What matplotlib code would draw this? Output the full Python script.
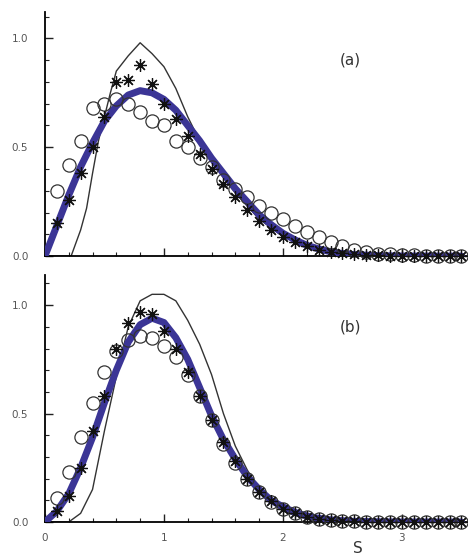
import numpy as np
import matplotlib.pyplot as plt
from matplotlib.ticker import MultipleLocator

# ---- panel (a) ----
s_pts = np.round(np.arange(0.1, 3.51, 0.1), 2)

circ_a = [0.30, 0.42, 0.53, 0.68, 0.70, 0.72, 0.70, 0.66, 0.62, 0.60,
          0.53, 0.50, 0.45, 0.41, 0.35, 0.31, 0.27, 0.23, 0.20, 0.17,
          0.14, 0.11, 0.09, 0.065, 0.045, 0.03, 0.02, 0.012, 0.008, 0.005,
          0.003, 0.002, 0.001, 0.001, 0.0]
star_a = [0.15, 0.26, 0.38, 0.50, 0.64, 0.80, 0.81, 0.88, 0.79, 0.70,
          0.63, 0.55, 0.47, 0.40, 0.33, 0.27, 0.21, 0.16, 0.12, 0.09,
          0.065, 0.045, 0.03, 0.02, 0.013, 0.008, 0.005, 0.003, 0.002, 0.001,
          0.0, 0.0, 0.0, 0.0, 0.0]

s_blue = [0.0, 0.1, 0.2, 0.3, 0.4, 0.5, 0.6, 0.7, 0.8, 0.9, 1.0, 1.1, 1.2,
          1.3, 1.4, 1.5, 1.6, 1.7, 1.8, 1.9, 2.0, 2.1, 2.2, 2.3, 2.4, 2.5,
          2.6, 2.8, 3.0, 3.5]
blue_a = [0.0, 0.14, 0.28, 0.41, 0.52, 0.62, 0.69, 0.74, 0.76, 0.75, 0.72,
          0.67, 0.60, 0.53, 0.45, 0.38, 0.31, 0.25, 0.19, 0.145, 0.105,
          0.075, 0.05, 0.033, 0.02, 0.012, 0.007, 0.002, 0.0005, 0.0]

s_thin_a = [0.0, 0.22, 0.3, 0.35, 0.4, 0.45, 0.5, 0.55, 0.6, 0.7, 0.8, 0.9,
            1.0, 1.1, 1.2, 1.3, 1.4, 1.5, 1.6, 1.7, 1.8, 1.9, 2.0, 2.2, 2.4,
            2.7, 3.0, 3.5]
thin_a = [0.0, 0.0, 0.12, 0.22, 0.38, 0.53, 0.64, 0.75, 0.85, 0.92, 0.98,
          0.93, 0.87, 0.77, 0.64, 0.53, 0.44, 0.36, 0.29, 0.23, 0.17, 0.13,
          0.09, 0.045, 0.02, 0.005, 0.001, 0.0]

# ---- panel (b) ----
circ_b = [0.11, 0.23, 0.39, 0.55, 0.69, 0.79, 0.84, 0.86, 0.85, 0.81,
          0.76, 0.68, 0.58, 0.47, 0.36, 0.27, 0.20, 0.14, 0.09, 0.06,
          0.04, 0.025, 0.015, 0.009, 0.005, 0.003, 0.002, 0.001, 0.0, 0.0,
          0.0, 0.0, 0.0, 0.0, 0.0]
star_b = [0.05, 0.12, 0.25, 0.42, 0.58, 0.80, 0.92, 0.97, 0.96, 0.88,
          0.80, 0.69, 0.58, 0.47, 0.37, 0.28, 0.20, 0.14, 0.095, 0.06,
          0.04, 0.025, 0.015, 0.009, 0.005, 0.003, 0.002, 0.001, 0.0, 0.0,
          0.0, 0.0, 0.0, 0.0, 0.0]
blue_b = [0.0, 0.05, 0.13, 0.25, 0.39, 0.55, 0.70, 0.83, 0.91, 0.94, 0.92,
          0.85, 0.75, 0.62, 0.49, 0.38, 0.29, 0.21, 0.15, 0.10, 0.07,
          0.045, 0.028, 0.017, 0.01, 0.006, 0.003, 0.001, 0.0, 0.0]

s_thin_b = [0.0, 0.2, 0.3, 0.4, 0.5, 0.6, 0.7, 0.8, 0.9, 1.0, 1.1, 1.2, 1.3,
            1.4, 1.5, 1.6, 1.7, 1.8, 1.9, 2.0, 2.1, 2.2, 2.4, 2.6, 3.5]
thin_b = [0.0, 0.0, 0.04, 0.15, 0.42, 0.67, 0.90, 1.02, 1.05, 1.05, 1.02,
          0.93, 0.82, 0.68, 0.50, 0.35, 0.24, 0.15, 0.09, 0.05, 0.03, 0.015,
          0.004, 0.0, 0.0]

xticks = [0, 1, 2, 3]
blue = '#3b3596'
grey = '#555555'

fig = plt.figure(figsize=(4.68, 5.58), dpi=100)
ax_a = fig.add_axes([0.096, 0.541, 0.904, 0.437])
ax_b = fig.add_axes([0.096, 0.0645, 0.904, 0.443])

panels = [
    (ax_a, circ_a, star_a, blue_a, s_thin_a, thin_a, '(a)', 1.12),
    (ax_b, circ_b, star_b, blue_b, s_thin_b, thin_b, '(b)', 1.14),
]

for ax, circ, star, bl, st, th, lab, ytop in panels:
    ax.plot(st, th, color='#333333', lw=1.0, zorder=2)
    ax.plot(s_blue, bl, color=blue, lw=5, solid_capstyle='round', zorder=3)
    ax.plot(s_pts, circ, ls='none', marker='o', ms=9.5, mfc='none',
            mec='#333333', mew=0.9, zorder=4, clip_on=False)
    ax.plot(s_pts, star, ls='none', marker=(8, 2, 0), ms=9, mec='#111111',
            mew=0.9, zorder=5, clip_on=False)
    ax.text(2.57, 0.90, lab, fontsize=11, color='#333333', ha='center', va='center')

    ax.set_xlim(0, 3.555)
    ax.set_ylim(0, ytop)
    ax.spines['top'].set_visible(False)
    ax.spines['right'].set_visible(False)
    ax.spines['left'].set_linewidth(1.3)
    ax.spines['bottom'].set_linewidth(1.3)
    ax.set_xticks(xticks)
    ax.xaxis.set_minor_locator(MultipleLocator(0.2))
    ax.set_yticks([0.0, 0.5, 1.0])
    ax.yaxis.set_minor_locator(MultipleLocator(0.1))
    ax.tick_params(which='both', direction='in', colors='#222222', labelcolor=grey,
                   labelsize=7.5)
    ax.tick_params(which='major', length=6, width=1.0)
    ax.tick_params(which='minor', length=3, width=0.8)
    ax.tick_params(axis='y', pad=12)
    ax.set_yticklabels(['0.0', '0.5', '1.0'])

ax_a.set_xticklabels([])
ax_b.set_xticklabels(['0', '1', '2', '3'])
ax_b.tick_params(axis='x', pad=8)
ax_b.text(2.63, -0.12, 'S', fontsize=11, color='#333333', ha='center', va='center')

fig.savefig('out.png', dpi=100)
